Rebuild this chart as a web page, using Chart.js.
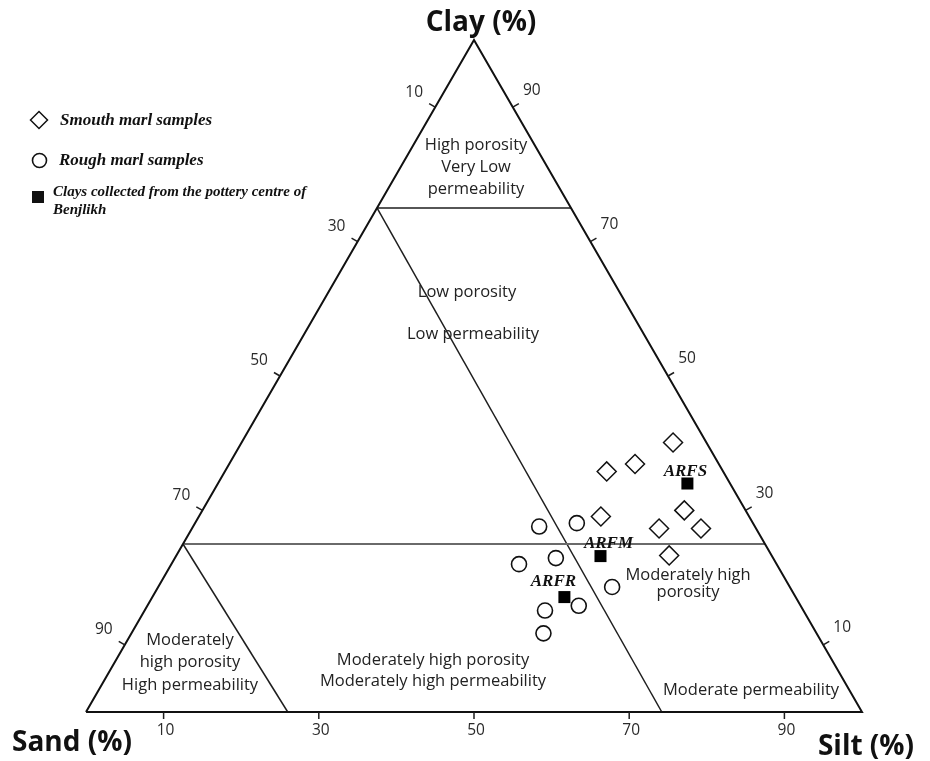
<!DOCTYPE html>
<html>
<head>
<meta charset="utf-8">
<script src="https://cdn.jsdelivr.net/npm/chart.js@4/dist/chart.umd.min.js"></script>
<style>
  html, body { margin: 0; padding: 0; background: #ffffff; }
  #wrap { width: 930px; height: 761px; position: relative; }
  canvas { display: block; }
</style>
</head>
<body>
<div id="wrap"><canvas id="c" width="930" height="761"></canvas></div>
<script>
// ---- Grain-size composition of the samples (%) ----
const smoothSand = [4.3, 15.0, 10.8, 19.1, 7.9, 12.5, 7.1, 13.2];
const smoothSilt = [55.6, 49.2, 52.3, 51.8, 62.1, 60.2, 65.6, 63.5];
const smoothClay = [40.1, 35.8, 36.9, 29.1, 30.0, 27.3, 27.3, 23.3];

const roughSand = [27.8, 22.7, 33.2, 28.0, 22.9, 33.3, 28.6, 35.2];
const roughSilt = [44.6, 49.2, 44.8, 49.1, 58.5, 51.6, 55.6, 53.1];
const roughClay = [27.6, 28.1, 22.0, 22.9, 18.6, 15.1, 15.8, 11.7];

const potteryNames = ['ARFS', 'ARFM', 'ARFR'];
const potterySand = [5.5, 22.1, 29.8];
const potterySilt = [60.5, 54.7, 53.1];
const potteryClay = [34.0, 23.2, 17.1];

const tickValues = [10, 30, 50, 70, 90];

// Region boundaries, each end given as [sand, silt, clay]
const boundaryLines = [
  [[25, 0, 75], [0, 25, 75]],
  [[75, 0, 25], [0, 75, 25]],
  [[25, 0, 75], [25.8, 74.2, 0]],
  [[75, 0, 25], [74, 26, 0]]
];

// ---- ternary -> cartesian (sand at origin, silt at x=100, clay at the apex) ----
const H = Math.sqrt(3) / 2;
function tern(sand, silt, clay) {
  const s = sand + silt + clay;
  return { x: (silt + clay / 2) * 100 / s, y: clay * H * 100 / s };
}
function toPoints(sand, silt, clay) {
  return sand.map((v, i) => tern(v, silt[i], clay[i]));
}

const outline = [tern(100, 0, 0), tern(0, 100, 0), tern(0, 0, 100), tern(100, 0, 0)];

// pixels per percent on the canvas
const K = 7.76;
const ORIGIN_X = 86, ORIGIN_Y = 712;

const lineDatasets = boundaryLines.map((seg, i) => ({
  data: seg.map(p => tern(p[0], p[1], p[2])),
  showLine: true,
  pointRadius: 0,
  borderColor: i === 1 ? '#6a6a6a' : '#1e1e1e',
  borderWidth: i === 1 ? 2 : 1.5,
  order: 10
}));

const regionLabels = [
  { lines: ['High porosity', 'Very Low', 'permeability'], u: 50.26, v: 70.17, lh: 22 },
  { lines: ['Low porosity'], u: 49.10, v: 54.12, lh: 20 },
  { lines: ['Low permeability'], u: 49.87, v: 48.71, lh: 20 },
  { lines: ['Moderately high', 'porosity'], u: 77.58, v: 16.56, lh: 17 },
  { lines: ['Moderately', 'high porosity', 'High permeability'], u: 13.40, v: 6.38, lh: 22.5 },
  { lines: ['Moderately high porosity', 'Moderately high permeability'], u: 44.72, v: 5.28, lh: 21 },
  { lines: ['Moderate permeability'], u: 85.70, v: 2.74, lh: 20 }
];

const nameOffsets = [[-2, -12], [8, -12], [-11, -15]];

function drawDiamond(ctx, x, y, r) {
  ctx.beginPath();
  ctx.moveTo(x - r, y); ctx.lineTo(x, y - r); ctx.lineTo(x + r, y); ctx.lineTo(x, y + r);
  ctx.closePath();
  ctx.fillStyle = '#fff'; ctx.fill();
  ctx.lineWidth = 1.5; ctx.strokeStyle = '#111'; ctx.stroke();
}

const overlay = {
  id: 'ternaryOverlay',
  beforeDatasetsDraw(chart) {
    const { ctx, scales: { x, y } } = chart;
    ctx.save();
    ctx.fillStyle = '#222';
    ctx.font = '16.5px "Open Sans", sans-serif';
    ctx.textAlign = 'center';
    ctx.textBaseline = 'middle';
    regionLabels.forEach(r => {
      const cx = x.getPixelForValue(r.u);
      const cy = y.getPixelForValue(r.v);
      const n = r.lines.length;
      r.lines.forEach((t, i) => {
        ctx.fillText(t, cx, cy + (i - (n - 1) / 2) * r.lh);
      });
    });
    ctx.restore();
  },
  afterDatasetsDraw(chart) {
    const { ctx, scales: { x, y } } = chart;
    const px = p => [x.getPixelForValue(p.x), y.getPixelForValue(p.y)];
    ctx.save();

    // axis ticks and their labels
    const edges = [
      { at: v => tern(100 - v, v, 0), dir: [0, 1], off: [2, 19] },
      { at: v => tern(v, 0, 100 - v), dir: [-0.866, -0.5], off: [-21, -15] },
      { at: v => tern(0, 100 - v, v), dir: [0.866, -0.5], off: [19, -17] }
    ];
    ctx.strokeStyle = '#1e1e1e';
    ctx.lineWidth = 1.5;
    ctx.fillStyle = '#2a2a2a';
    ctx.font = '15.5px "Open Sans", sans-serif';
    ctx.textAlign = 'center';
    ctx.textBaseline = 'middle';
    edges.forEach(e => {
      tickValues.forEach(v => {
        const [tx, ty] = px(e.at(v));
        ctx.beginPath();
        ctx.moveTo(tx, ty);
        ctx.lineTo(tx + e.dir[0] * 7, ty + e.dir[1] * 7);
        ctx.stroke();
        ctx.fillText(String(v), tx + e.off[0], ty + e.off[1]);
      });
    });

    // corner titles
    ctx.fillStyle = '#111';
    ctx.font = 'bold 28px "Open Sans", sans-serif';
    ctx.fillText('Clay (%)', 481, 23);
    ctx.fillText('Sand (%)', 72, 743);
    ctx.fillText('Silt (%)', 866, 747);

    // names of the pottery-centre clays
    ctx.font = 'italic bold 17px "Liberation Serif", serif';
    const meta = chart.getDatasetMeta(2);
    meta.data.forEach((el, i) => {
      ctx.fillText(potteryNames[i], el.x + nameOffsets[i][0], el.y + nameOffsets[i][1]);
    });

    // legend
    ctx.textAlign = 'left';
    ctx.font = 'italic bold 17px "Liberation Serif", serif';
    drawDiamond(ctx, 39, 120, 8.5);
    ctx.fillStyle = '#111';
    ctx.fillText('Smouth marl samples', 60, 121);
    ctx.beginPath();
    ctx.arc(39.5, 160.5, 7, 0, Math.PI * 2);
    ctx.fillStyle = '#fff'; ctx.fill();
    ctx.lineWidth = 1.6; ctx.strokeStyle = '#111'; ctx.stroke();
    ctx.fillStyle = '#111';
    ctx.fillText('Rough marl samples', 59, 161);
    ctx.fillRect(32, 191, 12, 12);
    ctx.font = 'italic bold 15px "Liberation Serif", serif';
    ctx.fillText('Clays collected from the pottery centre of', 53, 192);
    ctx.fillText('Benjlikh', 53, 210);

    ctx.restore();
  }
};

new Chart(document.getElementById('c'), {
  type: 'scatter',
  data: {
    datasets: [
      {
        label: 'Smouth marl samples',
        data: toPoints(smoothSand, smoothSilt, smoothClay),
        pointStyle: 'rectRot',
        pointRadius: 9.5,
        backgroundColor: '#ffffff',
        borderColor: '#111111',
        borderWidth: 1.5,
        order: 1
      },
      {
        label: 'Rough marl samples',
        data: toPoints(roughSand, roughSilt, roughClay),
        pointStyle: 'circle',
        pointRadius: 7.5,
        backgroundColor: '#ffffff',
        borderColor: '#111111',
        borderWidth: 1.6,
        order: 2
      },
      {
        label: 'Clays collected from the pottery centre of Benjlikh',
        data: toPoints(potterySand, potterySilt, potteryClay),
        pointStyle: 'rect',
        pointRadius: 8.5,
        backgroundColor: '#000000',
        borderColor: '#000000',
        borderWidth: 0,
        order: 0
      },
      {
        label: 'outline',
        data: outline,
        showLine: true,
        pointRadius: 0,
        borderColor: '#111111',
        borderWidth: 2,
        order: 9
      },
      ...lineDatasets
    ]
  },
  options: {
    responsive: false,
    animation: false,
    devicePixelRatio: 1,
    layout: { padding: 0, autoPadding: false },
    plugins: { legend: { display: false }, tooltip: { enabled: false } },
    scales: {
      x: { type: 'linear', display: false, min: -ORIGIN_X / K, max: (930 - ORIGIN_X) / K },
      y: { type: 'linear', display: false, min: -(761 - ORIGIN_Y) / K, max: ORIGIN_Y / K }
    }
  },
  plugins: [overlay]
});
</script>
</body>
</html>
